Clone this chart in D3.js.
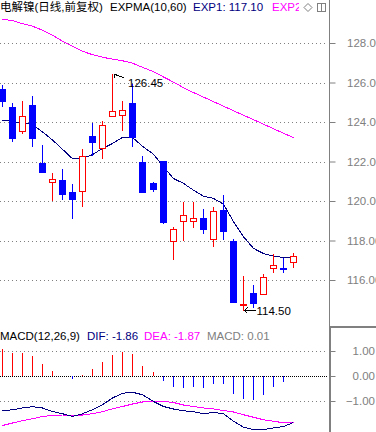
<!DOCTYPE html>
<html>
<head>
<meta charset="utf-8">
<script src="https://cdn.jsdelivr.net/npm/d3@7"></script>
<style>
body { margin: 0; background: #fff; overflow: hidden; }
svg { display: block; font-family: "Liberation Sans", Arial, "Noto Sans CJK SC", sans-serif; }
</style>
</head>
<body>
<div id="chart"></div>
<script>
// daily candles (30 sessions)
var openP  = [125.66,124.75,123.52,124.85,121.91,120.97,121.05,120.45,120.53,123.28,122.67,124.31,124.33,124.97,121.98,120.89,122.02,118.00,119.01,119.01,119.13,118.08,119.55,117.96,114.72,115.32,115.27,116.60,116.63,116.89]
var highP  = [125.86,124.95,125.05,125.31,122.83,121.41,121.61,120.85,122.61,123.97,124.03,126.45,125.05,125.90,122.30,120.95,122.05,118.67,119.94,119.94,119.57,119.69,120.31,118.10,116.21,115.74,116.29,117.32,117.12,117.39]
var lowP   = [124.82,123.04,123.45,122.79,121.45,120.03,120.09,119.14,119.75,122.35,122.18,124.31,123.60,122.76,120.46,120.51,118.90,117.07,118.02,118.69,118.38,117.71,118.10,114.89,114.50,114.64,115.27,116.38,116.38,116.66]
var closeP = [125.07,123.19,124.28,123.19,121.47,121.10,120.36,120.11,122.28,122.98,123.87,124.55,124.60,123.23,120.46,120.61,118.93,118.56,119.28,119.16,118.59,119.47,118.49,114.89,114.79,114.86,116.14,116.78,116.55,117.19]

// EXPMA lines
var exp1 = [124.09,124.03,123.95,123.87,123.50,123.09,122.62,122.14,122.15,122.35,122.66,122.91,123.22,123.22,122.77,122.37,121.73,121.14,120.89,120.55,120.24,120.13,119.84,118.95,118.19,117.60,117.34,117.21,117.14,117.10]
var exp2 = [129.21,129.13,128.98,128.85,128.65,128.39,128.09,127.84,127.58,127.41,127.28,127.18,127.10,126.98,126.77,126.55,126.28,126.02,125.74,125.49,125.26,125.03,124.80,124.57,124.34,124.12,123.89,123.66,123.43,123.21]

// MACD pane
var dif  = [-1.39,-1.35,-1.28,-1.23,-1.28,-1.42,-1.51,-1.62,-1.51,-1.35,-1.15,-0.88,-0.69,-0.65,-0.75,-1.02,-1.22,-1.32,-1.39,-1.43,-1.51,-1.46,-1.51,-1.81,-2.05,-2.14,-2.14,-2.08,-2.02,-1.86]
var dea  = [-1.98,-1.88,-1.79,-1.71,-1.62,-1.58,-1.56,-1.56,-1.56,-1.51,-1.43,-1.31,-1.22,-1.12,-1.04,-1.02,-1.02,-1.06,-1.16,-1.22,-1.28,-1.32,-1.38,-1.44,-1.55,-1.65,-1.75,-1.81,-1.87,-1.87]
var macd = [1.10,0.92,0.91,0.79,0.48,0.20,0,-0.10,0.04,0.28,0.56,0.83,0.98,0.87,0.40,0.16,-0.19,-0.42,-0.46,-0.42,-0.46,-0.30,-0.30,-0.70,-0.90,-0.95,-0.74,-0.45,-0.24,0.01]

var priceTicks = [116, 118, 120, 122, 124, 126, 128]
var macdTicks = [-1, 0, 1]

var RED = "#ff0000", BLUE = "#0000ff", NAVY = "#000080", MAG = "#ff00ff", GREY = "#808080"

var svg = d3.select("#chart")
    .append("svg")
    .attr("width", 376)
    .attr("height", 432)

var x = d3.scaleBand()
    .domain(d3.range(openP.length))
    .range([-2.5, 298.5])
var cx = function (i) { return Math.floor(x(i) + x.bandwidth() / 2) + 0.5 }

var y = d3.scaleLinear().domain([116, 128]).range([280, 43])
var ym = d3.scaleLinear().domain([-1, 1]).range([401, 351])

svg.append("clipPath").attr("id", "plot")
    .append("rect").attr("x", 0).attr("y", 0).attr("width", 329).attr("height", 432)
svg.append("clipPath").attr("id", "titleclip")
    .append("rect").attr("x", 0).attr("y", 0).attr("width", 299).attr("height", 20)

// grid lines
svg.append("g").selectAll("line")
    .data(priceTicks).enter().append("line")
    .attr("x1", 0).attr("x2", 328)
    .attr("y1", function (d) { return Math.round(y(d)) + 0.5 })
    .attr("y2", function (d) { return Math.round(y(d)) + 0.5 })
    .attr("stroke", GREY).attr("stroke-dasharray", "1,3")

svg.append("g").selectAll("line")
    .data(macdTicks).enter().append("line")
    .attr("x1", 0).attr("x2", 328)
    .attr("y1", function (d) { return Math.round(ym(d)) + 0.5 })
    .attr("y2", function (d) { return Math.round(ym(d)) + 0.5 })
    .attr("stroke", function (d) { return d == 0 ? "#000" : GREY })
    .attr("stroke-dasharray", function (d) { return d == 0 ? "1,1" : "1,3" })

var plot = svg.append("g").attr("clip-path", "url(#plot)")

// EXPMA lines
var priceLine = function (arr) {
    return d3.line()
        .x(function (d, i) { return cx(i) })
        .y(function (d) { return y(d) })(arr)
}
plot.append("path").attr("d", priceLine(exp2))
    .attr("fill", "none").attr("stroke", MAG).attr("shape-rendering", "crispEdges")
plot.append("path").attr("d", priceLine(exp1))
    .attr("fill", "none").attr("stroke", NAVY).attr("shape-rendering", "crispEdges")

// candles
var candles = openP.map(function (o, i) {
    return { i: i, open: o, high: highP[i], low: lowP[i], close: closeP[i], up: closeP[i] >= o }
})

var cg = plot.append("g").attr("shape-rendering", "crispEdges")
cg.selectAll(".wick")
    .data(candles).enter().append("line")
    .attr("x1", function (d) { return cx(d.i) })
    .attr("x2", function (d) { return cx(d.i) })
    .attr("y1", function (d) { return Math.round(y(d.high)) })
    .attr("y2", function (d) { return Math.round(y(d.low)) + 1 })
    .attr("stroke", function (d) { return d.up ? RED : BLUE })

cg.selectAll(".body")
    .data(candles).enter().append("rect")
    .attr("x", function (d) { return d.up ? cx(d.i) - 3 : cx(d.i) - 3.5 })
    .attr("width", function (d) { return d.up ? 6 : 7 })
    .attr("y", function (d) {
        var t = Math.round(y(Math.max(d.open, d.close)))
        return d.up ? t + 0.5 : t
    })
    .attr("height", function (d) {
        var h = Math.round(y(Math.min(d.open, d.close))) - Math.round(y(Math.max(d.open, d.close)))
        return d.up ? Math.max(h, 1) : Math.max(h + 1, 2)
    })
    .attr("fill", function (d) { return d.up ? "#fff" : BLUE })
    .attr("stroke", function (d) { return d.up ? RED : "none" })

// high / low markers
var hiI = d3.maxIndex(highP), loI = d3.minIndex(lowP)
var hx = cx(hiI) + 1.5, hy = Math.round(y(highP[hiI])) + 0.5
svg.append("path")
    .attr("d", "M" + hx + "," + hy + "L" + (hx + 10) + "," + (hy + 3) +
        "M" + hx + "," + hy + "l0,3M" + hx + "," + hy + "l3,0")
    .attr("fill", "none").attr("stroke", "#000").attr("shape-rendering", "crispEdges")
svg.append("text").attr("x", hx + 14).attr("y", hy + 12.5)
    .attr("font-size", "11.5px").attr("fill", "#000").text(highP[hiI].toFixed(2))

var lx = cx(loI) + 1, ly = Math.round(y(lowP[loI])) + 0.5
svg.append("path")
    .attr("d", "M" + lx + "," + ly + "L" + (lx + 11) + "," + ly +
        "M" + lx + "," + ly + "l3,-3M" + lx + "," + ly + "l3,3")
    .attr("fill", "none").attr("stroke", "#000").attr("shape-rendering", "crispEdges")
svg.append("text").attr("x", lx + 12).attr("y", ly + 4.5)
    .attr("font-size", "11.5px").attr("fill", "#000").text(lowP[loI].toFixed(2))

// MACD histogram and lines
plot.append("g").attr("shape-rendering", "crispEdges")
    .selectAll("line")
    .data(macd).enter().append("line")
    .attr("x1", function (d, i) { return cx(i) })
    .attr("x2", function (d, i) { return cx(i) })
    .attr("y1", ym(0))
    .attr("y2", function (d) { return Math.round(ym(d)) })
    .attr("stroke", function (d) { return d >= 0 ? RED : BLUE })

var macdLine = function (arr) {
    return d3.line()
        .x(function (d, i) { return cx(i) })
        .y(function (d) { return ym(d) })(arr)
}
plot.append("path").attr("d", macdLine(dea))
    .attr("fill", "none").attr("stroke", MAG).attr("shape-rendering", "crispEdges")
plot.append("path").attr("d", macdLine(dif))
    .attr("fill", "none").attr("stroke", NAVY).attr("shape-rendering", "crispEdges")

// right axes
var axisP = svg.append("g").attr("transform", "translate(329.5,0)")
axisP.call(d3.axisRight(y).tickValues(d3.range(115, 130, 0.5)).tickSize(3).tickFormat(""))
axisP.call(d3.axisRight(y).tickValues(priceTicks).tickSize(6).tickPadding(11.5)
    .tickFormat(d3.format(".2f")))
axisP.selectAll(".domain").remove()
axisP.selectAll("line").attr("stroke", GREY)
axisP.selectAll("text").attr("fill", GREY).attr("font-size", "11.5px")
    .attr("font-family", "Liberation Sans, Arial, sans-serif")

var axisM = svg.append("g").attr("transform", "translate(329.5,0)")
axisM.call(d3.axisRight(ym).tickValues([-1.5, -0.5, 0.5, 1.5]).tickSize(3).tickFormat(""))
axisM.call(d3.axisRight(ym).tickValues(macdTicks).tickSize(6).tickFormat(d3.format(".2f")))
axisM.selectAll(".domain").remove()
axisM.selectAll("line").attr("stroke", GREY)
axisM.selectAll("text").attr("fill", GREY).attr("font-size", "11.5px")
    .attr("text-anchor", "end").attr("x", 45.5)
    .attr("font-family", "Liberation Sans, Arial, sans-serif")

svg.append("line").attr("x1", 329.5).attr("x2", 329.5).attr("y1", 0).attr("y2", 327)
    .attr("stroke", GREY)
svg.append("line").attr("x1", 330).attr("x2", 330).attr("y1", 327).attr("y2", 432)
    .attr("stroke", GREY).attr("stroke-width", 2)
svg.append("line").attr("x1", 329).attr("x2", 376).attr("y1", 327).attr("y2", 327)
    .attr("stroke", GREY).attr("stroke-width", 2)

// title row
var title = svg.append("g").attr("clip-path", "url(#titleclip)").attr("font-size", "11.5px")
title.append("text").attr("x", 0).attr("y", 11).attr("fill", "#000").text("电解镍(日线,前复权)")
title.append("text").attr("x", 110).attr("y", 11).attr("fill", "#000").text("EXPMA(10,60)")
title.append("text").attr("x", 193).attr("y", 11).attr("fill", NAVY).text("EXP1: " + exp1[exp1.length - 1].toFixed(2))
title.append("text").attr("x", 272).attr("y", 11).attr("fill", MAG).text("EXP2: " + exp2[exp2.length - 1].toFixed(2))

svg.append("path").attr("d", "M308,3.5L312,7.5L308,11.5L304,7.5Z")
    .attr("fill", "none").attr("stroke", GREY)
svg.append("rect").attr("x", 317.5).attr("y", 3.5).attr("width", 8).attr("height", 8)
    .attr("fill", "none").attr("stroke", GREY)
svg.append("line").attr("x1", 321.5).attr("x2", 321.5).attr("y1", 3.5).attr("y2", 11.5)
    .attr("stroke", GREY)

// MACD title
var mt = svg.append("g").attr("font-size", "11.5px")
mt.append("text").attr("x", 0).attr("y", 339.5).attr("fill", "#000").text("MACD(12,26,9)")
mt.append("text").attr("x", 87).attr("y", 339.5).attr("fill", NAVY).text("DIF: " + dif[dif.length - 1].toFixed(2))
mt.append("text").attr("x", 144).attr("y", 339.5).attr("fill", MAG).text("DEA: " + dea[dea.length - 1].toFixed(2))
mt.append("text").attr("x", 207).attr("y", 339.5).attr("fill", GREY).text("MACD: " + macd[macd.length - 1].toFixed(2))
</script>
</body>
</html>
